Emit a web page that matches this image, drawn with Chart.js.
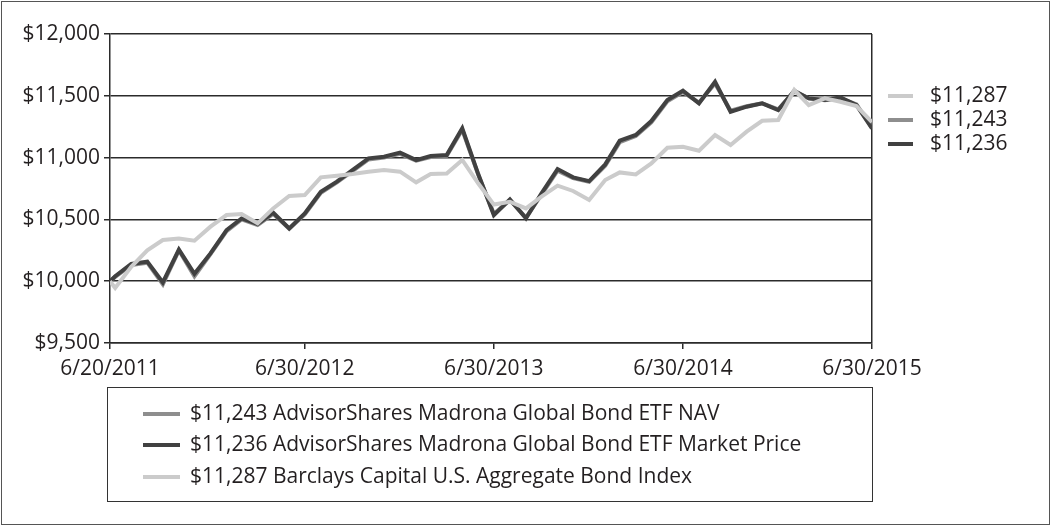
<!DOCTYPE html>
<html>
<head>
<meta charset="utf-8">
<script src="https://cdn.jsdelivr.net/npm/chart.js@4/dist/chart.umd.min.js"></script>
<style>
  body { margin: 0; background: #fff; }
  #wrap { position: relative; width: 1052px; height: 527px; font-family: "Open Sans", sans-serif; color: #231f20; }
  #chart { position: absolute; left: 0; top: 0; }
  #frame { position: absolute; left: 1px; top: 1px; width: 1047px; height: 522px; border: 1.5px solid #555; }
  .legend { position: absolute; left: 107px; top: 387px; width: 764px; height: 113px; border: 1.5px solid #333; }
  .row { position: absolute; left: 0; height: 28px; line-height: 28px; font-size: 21px; white-space: nowrap; }
  .sw { display: inline-block; width: 37px; height: 4px; margin: 0 10px 0 35px; vertical-align: middle; }
  .side { position: absolute; left: 888px; height: 28px; line-height: 28px; font-size: 21px; white-space: nowrap; }
  .side .sw { width: 25px; margin: 0 17px 0 0; }
</style>
</head>
<body>
<div id="wrap">
  <canvas id="chart" width="1052" height="527"></canvas>
  <div id="frame"></div>
  <div class="legend" id="legend"></div>
  <div id="side"></div>
</div>
<script>
// first point is the inception date, then month ends
var dates = [
  '2011-06-20', '2011-06-30', '2011-07-31', '2011-08-31', '2011-09-30', '2011-10-31', '2011-11-30', '2011-12-31',
  '2012-01-31', '2012-02-29', '2012-03-31', '2012-04-30', '2012-05-31', '2012-06-30', '2012-07-31', '2012-08-31',
  '2012-09-30', '2012-10-31', '2012-11-30', '2012-12-31', '2013-01-31', '2013-02-28', '2013-03-31', '2013-04-30',
  '2013-05-31', '2013-06-30', '2013-07-31', '2013-08-31', '2013-09-30', '2013-10-31', '2013-11-30', '2013-12-31',
  '2014-01-31', '2014-02-28', '2014-03-31', '2014-04-30', '2014-05-31', '2014-06-30', '2014-07-31', '2014-08-31',
  '2014-09-30', '2014-10-31', '2014-11-30', '2014-12-31', '2015-01-31', '2015-02-28', '2015-03-31', '2015-04-30',
  '2015-05-31', '2015-06-30'
];

var navValues = [
  10000, 10035, 10130, 10150, 9975, 10250, 10040, 10220, 10405, 10500, 10455, 10545, 10425, 10540, 10715, 10800,
  10890, 10985, 11000, 11030, 10975, 11005, 11015, 11225, 10860, 10545, 10655, 10515, 10700, 10895, 10835, 10805,
  10935, 11125, 11175, 11285, 11455, 11530, 11445, 11600, 11380, 11415, 11440, 11390, 11535, 11480, 11465, 11480,
  11430, 11243
];

var marketValues = [
  10000, 10040, 10140, 10158, 9990, 10255, 10060, 10225, 10414, 10508, 10462, 10554, 10427, 10549, 10724, 10805,
  10899, 10994, 11007, 11040, 10980, 11013, 11021, 11237, 10865, 10535, 10662, 10508, 10711, 10907, 10840, 10810,
  10945, 11137, 11183, 11296, 11466, 11541, 11439, 11614, 11371, 11412, 11439, 11385, 11541, 11479, 11466, 11487,
  11425, 11236
];

var indexValues = [
  10000, 9945, 10117, 10250, 10333, 10346, 10328, 10441, 10535, 10543, 10468, 10589, 10689, 10697, 10840, 10854,
  10867, 10886, 10900, 10886, 10800, 10867, 10872, 10981, 10790, 10620, 10643, 10589, 10684, 10773, 10730, 10657,
  10818, 10880, 10864, 10953, 11080, 11088, 11056, 11182, 11102, 11210, 11298, 11304, 11547, 11425, 11479, 11452,
  11417, 11287
];

var tickDates = ['2011-06-20', '2012-06-30', '2013-06-30', '2014-06-30', '2015-06-30'];
var tickLabels = ['6/20/2011', '6/30/2012', '6/30/2013', '6/30/2014', '6/30/2015'];

var seriesNames = [
  '$11,243 AdvisorShares Madrona Global Bond ETF NAV',
  '$11,236 AdvisorShares Madrona Global Bond ETF Market Price',
  '$11,287 Barclays Capital U.S. Aggregate Bond Index'
];
var endLabels = ['$11,287', '$11,243', '$11,236'];

var navColor = '#8e8e8e', marketColor = '#414141', indexColor = '#cbcbcb';
var lineDark = '#2b2b2b';
var font = { family: '"Open Sans", sans-serif', size: 21 };

function dayOf(s) {
  var p = s.split('-');
  return Math.round((Date.UTC(+p[0], p[1] - 1, +p[2]) - Date.UTC(2011, 5, 20)) / 86400000);
}
function points(vals) {
  return vals.map(function (v, i) { return { x: dayOf(dates[i]), y: v }; });
}
var lastDay = dayOf(dates[dates.length - 1]);

new Chart(document.getElementById('chart'), {
  type: 'line',
  data: {
    datasets: [
      { label: seriesNames[2], data: points(indexValues), borderColor: indexColor, order: 0 },
      { label: seriesNames[1], data: points(marketValues), borderColor: marketColor, order: 1 },
      { label: seriesNames[0], data: points(navValues), borderColor: navColor, order: 2 }
    ]
  },
  options: {
    responsive: false,
    animation: false,
    layout: { padding: { top: 34, right: 180, left: 0, bottom: 0 } },
    elements: {
      point: { radius: 0 },
      line: { borderWidth: 4, tension: 0, borderJoinStyle: 'miter', borderCapStyle: 'butt' }
    },
    plugins: { legend: { display: false }, tooltip: { enabled: false } },
    scales: {
      x: {
        type: 'linear',
        min: 0,
        max: lastDay,
        afterBuildTicks: function (s) {
          s.ticks = tickDates.map(function (d) { return { value: dayOf(d) }; });
        },
        afterFit: function (s) { s.height = 527 - 343; },
        ticks: {
          autoSkip: false,
          maxRotation: 0,
          padding: 7,
          color: '#231f20',
          font: font,
          callback: function (v) { return tickLabels[tickDates.map(dayOf).indexOf(v)]; }
        },
        grid: {
          drawOnChartArea: true,
          color: function (ctx) { return ctx.tick && ctx.tick.value === lastDay ? lineDark : 'rgba(0,0,0,0)'; },
          tickColor: lineDark,
          tickLength: 6,
          lineWidth: 1.5
        },
        border: { display: true, color: lineDark, width: 1.5 }
      },
      y: {
        min: 9500,
        max: 12000,
        afterFit: function (s) { s.width = 110; },
        ticks: {
          stepSize: 500,
          padding: 4,
          color: '#231f20',
          font: font,
          callback: function (v) { return '$' + v.toLocaleString('en-US'); }
        },
        grid: { color: lineDark, tickColor: lineDark, tickLength: 6, lineWidth: 1.5 },
        border: { display: true, color: lineDark, width: 1.5 }
      }
    }
  }
});

// bottom legend box
var legend = document.getElementById('legend');
var legendColors = [navColor, marketColor, indexColor];
var rowTops = [10, 41, 73];
seriesNames.forEach(function (name, i) {
  var r = document.createElement('div');
  r.className = 'row';
  r.style.top = rowTops[i] + 'px';
  r.innerHTML = '<span class="sw" style="background:' + legendColors[i] + '"></span>' + name;
  legend.appendChild(r);
});

// ending values at the right of the plot
var side = document.getElementById('side');
var sideColors = [indexColor, navColor, marketColor];
var sideTops = [80, 104, 128];
endLabels.forEach(function (t, i) {
  var r = document.createElement('div');
  r.className = 'side';
  r.style.top = sideTops[i] + 'px';
  r.innerHTML = '<span class="sw" style="background:' + sideColors[i] + '"></span>' + t;
  side.appendChild(r);
});
</script>
</body>
</html>
